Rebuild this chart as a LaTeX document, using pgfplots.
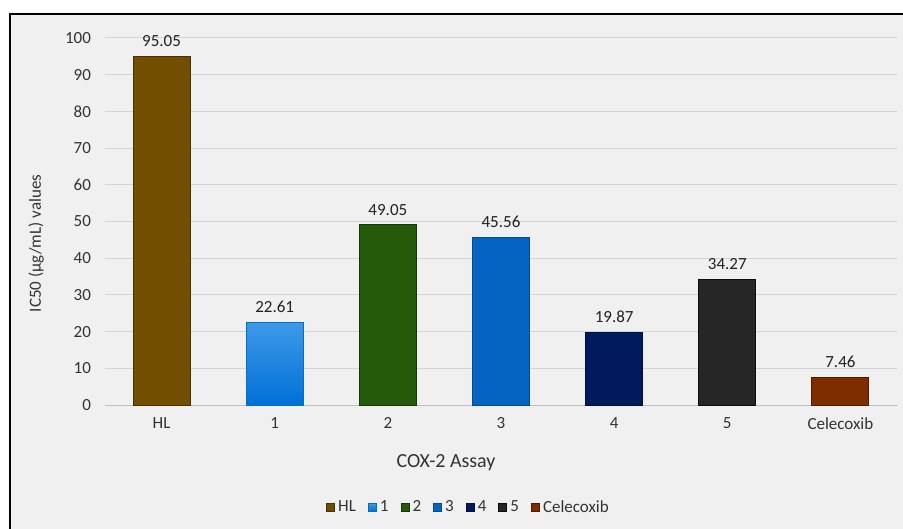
\documentclass[border=0pt]{standalone}
\usepackage{pgfplots}
\pgfplotsset{compat=1.18}
\usepackage{fontspec}
\setmainfont{Carlito}
\definecolor{bgc}{HTML}{F0F0F0}
\definecolor{gridc}{HTML}{D4D4D4}
\definecolor{axc}{HTML}{BFBFBF}
\definecolor{txt}{HTML}{333333}
\definecolor{lbl}{HTML}{222222}
\definecolor{c0}{HTML}{724E00}\definecolor{c0d}{HTML}{4A3200}
\definecolor{c1t}{HTML}{3E9AE8}\definecolor{c1b}{HTML}{0070D6}\definecolor{c1d}{HTML}{0070C0}
\definecolor{c2}{HTML}{265A0B}\definecolor{c2d}{HTML}{163806}
\definecolor{c3}{HTML}{0563C1}\definecolor{c3d}{HTML}{034A93}
\definecolor{c4}{HTML}{001A5E}\definecolor{c4d}{HTML}{00103A}
\definecolor{c5}{HTML}{262626}\definecolor{c5d}{HTML}{0D0D0D}
\definecolor{c6}{HTML}{7E2D00}\definecolor{c6d}{HTML}{4F1C00}
\begin{document}
\begin{tikzpicture}[x=1pt,y=1pt]
\useasboundingbox (0,0) rectangle (903,528);
\begin{scope}
\clip (0,0) rectangle (903,528);
\fill[white] (0,0) rectangle (903,528);
\filldraw[fill=bgc, draw=black, line width=2pt] (10,514) rectangle (912,-12);
\end{scope}
\begin{axis}[
  at={(105pt,123pt)}, anchor=south west,
  scale only axis, width=792pt, height=367pt,
  xmin=-0.5, xmax=6.5, ymin=0, ymax=100,
  ytick={0,10,...,100},
  xtick={0,1,2,3,4,5,6},
  xticklabels={HL,1,2,3,4,5,Celecoxib},
  axis lines*=left,
  x axis line style={draw=axc, line width=1pt},
  y axis line style={draw=none},
  major tick length=0pt,
  ymajorgrids, grid style={draw=gridc, line width=1pt},
  /pgf/number format/assume math mode=true,
  tick label style={font=\fontsize{17}{20}\selectfont, text=txt},
  yticklabel style={xshift=-10.5pt},
  xticklabel style={yshift=-9pt},
  xlabel={COX-2 Assay},
  xlabel style={at={(axis description cs:0.4306,-0.158)}, anchor=center, font=\fontsize{20}{24}\selectfont, text=txt},
  ylabel={IC50 (µg/mL) values},
  ylabel style={at={(axis description cs:-0.087,0.44)}, anchor=center, rotate=0, font=\fontsize{17}{20}\selectfont, text=txt},
  nodes near coords,
  nodes near coords style={font=\fontsize{17}{20}\selectfont, text=lbl, anchor=south, yshift=6pt,
    /pgf/number format/.cd, fixed, fixed zerofill, precision=2, assume math mode=true},
  legend columns=7,
  legend style={at={(0.459,-0.278)}, anchor=center, draw=none, fill=none,
    font=\fontsize{17}{20}\selectfont, text=txt,
    /tikz/every odd column/.append style={column sep=0pt},
    /tikz/every even column/.append style={column sep=10pt}},
  legend image code/.code={\draw[#1] (0pt,-4pt) rectangle (8pt,4pt); \path (9pt,0pt);},
]
\addplot[ybar, bar width=57pt, bar shift=0pt, fill=c0, draw=c0d, line width=1pt] coordinates {(0,95.05)};
\addplot[ybar, bar width=57pt, bar shift=0pt, top color=c1t, bottom color=c1b, draw=c1d, line width=1pt] coordinates {(1,22.61)};
\addplot[ybar, bar width=57pt, bar shift=0pt, fill=c2, draw=c2d, line width=1pt] coordinates {(2,49.05)};
\addplot[ybar, bar width=57pt, bar shift=0pt, fill=c3, draw=c3d, line width=1pt] coordinates {(3,45.56)};
\addplot[ybar, bar width=57pt, bar shift=0pt, fill=c4, draw=c4d, line width=1pt] coordinates {(4,19.87)};
\addplot[ybar, bar width=57pt, bar shift=0pt, fill=c5, draw=c5d, line width=1pt] coordinates {(5,34.27)};
\addplot[ybar, bar width=57pt, bar shift=0pt, fill=c6, draw=c6d, line width=1pt] coordinates {(6,7.46)};
\legend{HL,1,2,3,4,5,Celecoxib}
\end{axis}
\end{tikzpicture}
\end{document}
